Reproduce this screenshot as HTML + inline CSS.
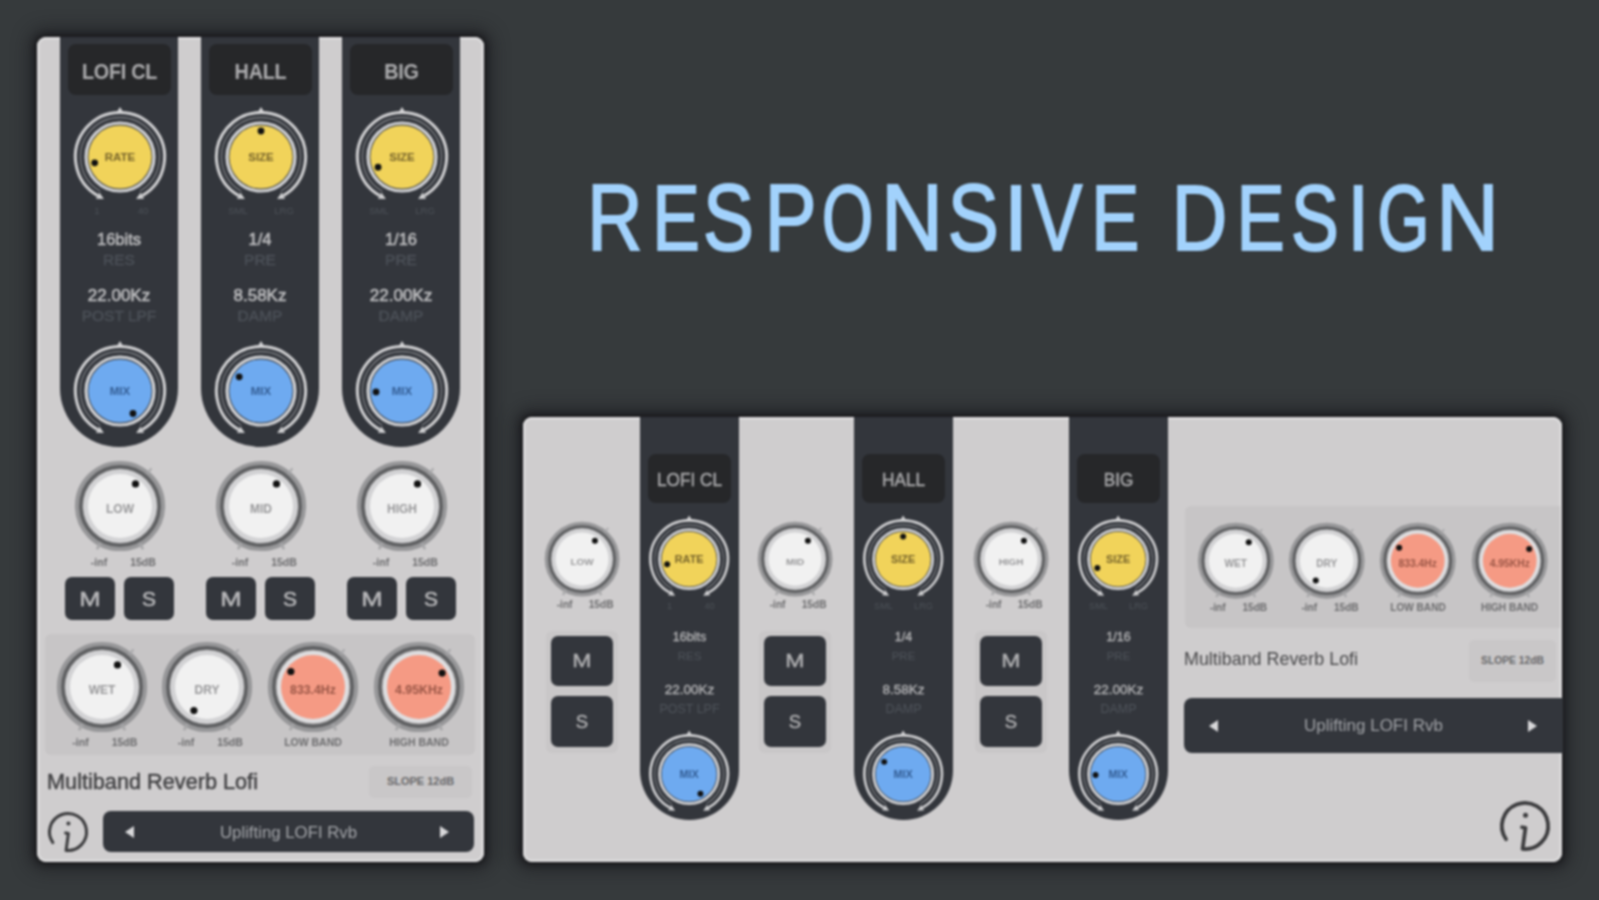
<!DOCTYPE html>
<html><head><meta charset="utf-8"><style>
html,body{margin:0;padding:0;}
body{width:1599px;height:900px;overflow:hidden;background:#363a3c;position:relative;font-family:"Liberation Sans", sans-serif;}
.t{position:absolute;white-space:nowrap;}
#w{position:absolute;left:0;top:0;width:1599px;height:900px;filter:blur(1.1px);}
</style></head><body><div id="w">
<div style="position:absolute;left:37px;top:37px;width:447px;height:825px;background:#cfcdce;border-radius:9px;box-shadow:0 0 5px 3px rgba(25,26,29,.9), 0 0 16px 9px rgba(25,26,29,.55), inset 0 0 0 2.5px #dcdbdc;"></div>
<div style="position:absolute;left:60px;top:37px;width:118px;height:410px;background:#33363c;border-radius:0 0 59px 59px;"></div>
<div style="position:absolute;left:68px;top:44px;width:103px;height:51px;background:#262729;border-radius:8px;"></div>
<div class="t" style="left:68px;top:57.5px;width:103px;text-align:center;font-size:22.5px;line-height:27.0px;color:#acacae;font-weight:bold;transform:scaleX(0.88);letter-spacing:-0.3px;">LOFI CL</div>
<svg style="position:absolute;left:60.0px;top:97.0px" width="120.0" height="120.0" viewBox="0 0 120.00 120.00"><path d="M37.70,98.62 A44.60,44.60 0 1 1 82.30,98.62" fill="none" stroke="#d0d0d2" stroke-width="3.00"/><path d="M40.25,94.21 A39.50,39.50 0 1 1 79.75,94.21" fill="none" stroke="#7a7c80" stroke-width="1.30"/><circle cx="60.0" cy="60.0" r="34.00" fill="none" stroke="#cfd0d3" stroke-width="3.20"/><circle cx="60.0" cy="60.0" r="31.60" fill="#f1d35a"/><path d="M56.00,16.20 L60.00,9.90 L64.00,16.20Z" fill="#d0d0d2"/><path d="M39.45,95.59 L35.95,101.66 L43.84,102.10Z" fill="#d0d0d2"/><path d="M80.55,95.59 L84.05,101.66 L76.16,102.10Z" fill="#d0d0d2"/><circle cx="34.67" cy="65.85" r="3.40" fill="#111"/><text x="60.0" y="64.00" text-anchor="middle" font-family='"Liberation Sans", sans-serif' font-weight="bold" font-size="11.50" fill="#76632a">RATE</text></svg>
<div class="t" style="left:67.0px;top:204.5px;width:60px;text-align:center;font-size:9.6px;color:#4d5258;line-height:12px">1</div>
<div class="t" style="left:113.0px;top:204.5px;width:60px;text-align:center;font-size:9.6px;color:#4d5258;line-height:12px">40</div>
<div class="t" style="left:60px;top:230.1px;width:118px;text-align:center;font-size:16.5px;line-height:19.8px;color:#bcbcbe;font-weight:normal;-webkit-text-stroke:0.55px #bcbcbe;">16bits</div>
<div class="t" style="left:60px;top:250.7px;width:118px;text-align:center;font-size:15.5px;line-height:18.599999999999998px;color:#4c5158;font-weight:normal;-webkit-text-stroke:0.4px #4c5158;">RES</div>
<div class="t" style="left:60px;top:285.8px;width:118px;text-align:center;font-size:17px;line-height:20.4px;color:#bcbcbe;font-weight:normal;-webkit-text-stroke:0.55px #bcbcbe;">22.00Kz</div>
<div class="t" style="left:60px;top:306.7px;width:118px;text-align:center;font-size:15.5px;line-height:18.599999999999998px;color:#4c5158;font-weight:normal;-webkit-text-stroke:0.4px #4c5158;">POST LPF</div>
<svg style="position:absolute;left:60.0px;top:331.0px" width="120.0" height="120.0" viewBox="0 0 120.00 120.00"><path d="M37.70,98.62 A44.60,44.60 0 1 1 82.30,98.62" fill="none" stroke="#d0d0d2" stroke-width="3.00"/><path d="M40.25,94.21 A39.50,39.50 0 1 1 79.75,94.21" fill="none" stroke="#7a7c80" stroke-width="1.30"/><circle cx="60.0" cy="60.0" r="34.00" fill="none" stroke="#cfd0d3" stroke-width="3.20"/><circle cx="60.0" cy="60.0" r="31.60" fill="#6eaaf0"/><path d="M56.00,16.20 L60.00,9.90 L64.00,16.20Z" fill="#d0d0d2"/><path d="M39.45,95.59 L35.95,101.66 L43.84,102.10Z" fill="#d0d0d2"/><path d="M80.55,95.59 L84.05,101.66 L76.16,102.10Z" fill="#d0d0d2"/><circle cx="73.00" cy="82.52" r="3.40" fill="#111"/><text x="60.0" y="64.00" text-anchor="middle" font-family='"Liberation Sans", sans-serif' font-weight="bold" font-size="11.50" fill="#335d94">MIX</text></svg>
<div class="t" style="left:67.0px;top:438.5px;width:60px;text-align:center;font-size:9.6px;color:#4d5258;line-height:12px"></div>
<div class="t" style="left:113.0px;top:438.5px;width:60px;text-align:center;font-size:9.6px;color:#4d5258;line-height:12px"></div>
<svg style="position:absolute;left:62.0px;top:448.0px" width="116.0" height="116.0" viewBox="0 0 116.00 116.00"><circle cx="58.0" cy="58.0" r="40.80" fill="none" stroke="#979799" stroke-width="8.60"/><circle cx="58.0" cy="58.0" r="39.20" fill="none" stroke="#5e5f61" stroke-width="3.40"/><path d="M38.28,95.08 L35.00,101.26" stroke="#a6a6a8" stroke-width="2.60"/><path d="M77.72,95.08 L81.00,101.26" stroke="#a6a6a8" stroke-width="2.60"/><path d="M85.64,25.06 L89.50,20.46" stroke="#a8a8aa" stroke-width="2.00"/><circle cx="58.0" cy="58.0" r="36.80" fill="#d2d2d4"/><circle cx="58.0" cy="58.0" r="32.00" fill="#f1f1f1"/><circle cx="73.49" cy="35.88" r="3.60" fill="#111"/><text x="58.0" y="65.00" text-anchor="middle" font-family='"Liberation Sans", sans-serif' font-weight="bold" font-size="12.00" fill="#98989a">LOW</text></svg>
<div class="t" style="left:69.0px;top:554.5px;width:60px;text-align:center;font-size:10.5px;color:#6c6c6e;font-weight:bold;line-height:14px">-inf</div>
<div class="t" style="left:113.0px;top:554.5px;width:60px;text-align:center;font-size:10.5px;color:#6c6c6e;font-weight:bold;line-height:14px">15dB</div>
<div style="position:absolute;left:65px;top:577px;width:50px;height:43px;background:#33363c;border-radius:7px;"></div>
<div style="position:absolute;left:124px;top:577px;width:50px;height:43px;background:#33363c;border-radius:7px;"></div>
<div class="t" style="left:65px;top:586.4px;width:50px;text-align:center;font-size:21px;line-height:25.2px;color:#b6b6b8;font-weight:normal;-webkit-text-stroke:0.6px #b6b6b8;transform:scaleX(1.22);">M</div>
<div class="t" style="left:124px;top:586.4px;width:50px;text-align:center;font-size:21px;line-height:25.2px;color:#b6b6b8;font-weight:normal;-webkit-text-stroke:0.6px #b6b6b8;">S</div>
<div style="position:absolute;left:201px;top:37px;width:118px;height:410px;background:#33363c;border-radius:0 0 59px 59px;"></div>
<div style="position:absolute;left:209px;top:44px;width:103px;height:51px;background:#262729;border-radius:8px;"></div>
<div class="t" style="left:209px;top:57.5px;width:103px;text-align:center;font-size:22.5px;line-height:27.0px;color:#acacae;font-weight:bold;transform:scaleX(0.88);letter-spacing:-0.3px;">HALL</div>
<svg style="position:absolute;left:201.0px;top:97.0px" width="120.0" height="120.0" viewBox="0 0 120.00 120.00"><path d="M37.70,98.62 A44.60,44.60 0 1 1 82.30,98.62" fill="none" stroke="#d0d0d2" stroke-width="3.00"/><path d="M40.25,94.21 A39.50,39.50 0 1 1 79.75,94.21" fill="none" stroke="#7a7c80" stroke-width="1.30"/><circle cx="60.0" cy="60.0" r="34.00" fill="none" stroke="#cfd0d3" stroke-width="3.20"/><circle cx="60.0" cy="60.0" r="31.60" fill="#f1d35a"/><path d="M56.00,16.20 L60.00,9.90 L64.00,16.20Z" fill="#d0d0d2"/><path d="M39.45,95.59 L35.95,101.66 L43.84,102.10Z" fill="#d0d0d2"/><path d="M80.55,95.59 L84.05,101.66 L76.16,102.10Z" fill="#d0d0d2"/><circle cx="60.00" cy="34.00" r="3.40" fill="#111"/><text x="60.0" y="64.00" text-anchor="middle" font-family='"Liberation Sans", sans-serif' font-weight="bold" font-size="11.50" fill="#76632a">SIZE</text></svg>
<div class="t" style="left:208.0px;top:204.5px;width:60px;text-align:center;font-size:9.6px;color:#4d5258;line-height:12px">SML</div>
<div class="t" style="left:254.0px;top:204.5px;width:60px;text-align:center;font-size:9.6px;color:#4d5258;line-height:12px">LRG</div>
<div class="t" style="left:201px;top:230.1px;width:118px;text-align:center;font-size:16.5px;line-height:19.8px;color:#bcbcbe;font-weight:normal;-webkit-text-stroke:0.55px #bcbcbe;">1/4</div>
<div class="t" style="left:201px;top:250.7px;width:118px;text-align:center;font-size:15.5px;line-height:18.599999999999998px;color:#4c5158;font-weight:normal;-webkit-text-stroke:0.4px #4c5158;">PRE</div>
<div class="t" style="left:201px;top:285.8px;width:118px;text-align:center;font-size:17px;line-height:20.4px;color:#bcbcbe;font-weight:normal;-webkit-text-stroke:0.55px #bcbcbe;">8.58Kz</div>
<div class="t" style="left:201px;top:306.7px;width:118px;text-align:center;font-size:15.5px;line-height:18.599999999999998px;color:#4c5158;font-weight:normal;-webkit-text-stroke:0.4px #4c5158;">DAMP</div>
<svg style="position:absolute;left:201.0px;top:331.0px" width="120.0" height="120.0" viewBox="0 0 120.00 120.00"><path d="M37.70,98.62 A44.60,44.60 0 1 1 82.30,98.62" fill="none" stroke="#d0d0d2" stroke-width="3.00"/><path d="M40.25,94.21 A39.50,39.50 0 1 1 79.75,94.21" fill="none" stroke="#7a7c80" stroke-width="1.30"/><circle cx="60.0" cy="60.0" r="34.00" fill="none" stroke="#cfd0d3" stroke-width="3.20"/><circle cx="60.0" cy="60.0" r="31.60" fill="#6eaaf0"/><path d="M56.00,16.20 L60.00,9.90 L64.00,16.20Z" fill="#d0d0d2"/><path d="M39.45,95.59 L35.95,101.66 L43.84,102.10Z" fill="#d0d0d2"/><path d="M80.55,95.59 L84.05,101.66 L76.16,102.10Z" fill="#d0d0d2"/><circle cx="38.19" cy="45.84" r="3.40" fill="#111"/><text x="60.0" y="64.00" text-anchor="middle" font-family='"Liberation Sans", sans-serif' font-weight="bold" font-size="11.50" fill="#335d94">MIX</text></svg>
<div class="t" style="left:208.0px;top:438.5px;width:60px;text-align:center;font-size:9.6px;color:#4d5258;line-height:12px"></div>
<div class="t" style="left:254.0px;top:438.5px;width:60px;text-align:center;font-size:9.6px;color:#4d5258;line-height:12px"></div>
<svg style="position:absolute;left:203.0px;top:448.0px" width="116.0" height="116.0" viewBox="0 0 116.00 116.00"><circle cx="58.0" cy="58.0" r="40.80" fill="none" stroke="#979799" stroke-width="8.60"/><circle cx="58.0" cy="58.0" r="39.20" fill="none" stroke="#5e5f61" stroke-width="3.40"/><path d="M38.28,95.08 L35.00,101.26" stroke="#a6a6a8" stroke-width="2.60"/><path d="M77.72,95.08 L81.00,101.26" stroke="#a6a6a8" stroke-width="2.60"/><path d="M85.64,25.06 L89.50,20.46" stroke="#a8a8aa" stroke-width="2.00"/><circle cx="58.0" cy="58.0" r="36.80" fill="#d2d2d4"/><circle cx="58.0" cy="58.0" r="32.00" fill="#f1f1f1"/><circle cx="73.49" cy="35.88" r="3.60" fill="#111"/><text x="58.0" y="65.00" text-anchor="middle" font-family='"Liberation Sans", sans-serif' font-weight="bold" font-size="12.00" fill="#98989a">MID</text></svg>
<div class="t" style="left:210.0px;top:554.5px;width:60px;text-align:center;font-size:10.5px;color:#6c6c6e;font-weight:bold;line-height:14px">-inf</div>
<div class="t" style="left:254.0px;top:554.5px;width:60px;text-align:center;font-size:10.5px;color:#6c6c6e;font-weight:bold;line-height:14px">15dB</div>
<div style="position:absolute;left:206px;top:577px;width:50px;height:43px;background:#33363c;border-radius:7px;"></div>
<div style="position:absolute;left:265px;top:577px;width:50px;height:43px;background:#33363c;border-radius:7px;"></div>
<div class="t" style="left:206px;top:586.4px;width:50px;text-align:center;font-size:21px;line-height:25.2px;color:#b6b6b8;font-weight:normal;-webkit-text-stroke:0.6px #b6b6b8;transform:scaleX(1.22);">M</div>
<div class="t" style="left:265px;top:586.4px;width:50px;text-align:center;font-size:21px;line-height:25.2px;color:#b6b6b8;font-weight:normal;-webkit-text-stroke:0.6px #b6b6b8;">S</div>
<div style="position:absolute;left:342px;top:37px;width:118px;height:410px;background:#33363c;border-radius:0 0 59px 59px;"></div>
<div style="position:absolute;left:350px;top:44px;width:103px;height:51px;background:#262729;border-radius:8px;"></div>
<div class="t" style="left:350px;top:57.5px;width:103px;text-align:center;font-size:22.5px;line-height:27.0px;color:#acacae;font-weight:bold;transform:scaleX(0.88);letter-spacing:-0.3px;">BIG</div>
<svg style="position:absolute;left:342.0px;top:97.0px" width="120.0" height="120.0" viewBox="0 0 120.00 120.00"><path d="M37.70,98.62 A44.60,44.60 0 1 1 82.30,98.62" fill="none" stroke="#d0d0d2" stroke-width="3.00"/><path d="M40.25,94.21 A39.50,39.50 0 1 1 79.75,94.21" fill="none" stroke="#7a7c80" stroke-width="1.30"/><circle cx="60.0" cy="60.0" r="34.00" fill="none" stroke="#cfd0d3" stroke-width="3.20"/><circle cx="60.0" cy="60.0" r="31.60" fill="#f1d35a"/><path d="M56.00,16.20 L60.00,9.90 L64.00,16.20Z" fill="#d0d0d2"/><path d="M39.45,95.59 L35.95,101.66 L43.84,102.10Z" fill="#d0d0d2"/><path d="M80.55,95.59 L84.05,101.66 L76.16,102.10Z" fill="#d0d0d2"/><circle cx="36.07" cy="70.16" r="3.40" fill="#111"/><text x="60.0" y="64.00" text-anchor="middle" font-family='"Liberation Sans", sans-serif' font-weight="bold" font-size="11.50" fill="#76632a">SIZE</text></svg>
<div class="t" style="left:349.0px;top:204.5px;width:60px;text-align:center;font-size:9.6px;color:#4d5258;line-height:12px">SML</div>
<div class="t" style="left:395.0px;top:204.5px;width:60px;text-align:center;font-size:9.6px;color:#4d5258;line-height:12px">LRG</div>
<div class="t" style="left:342px;top:230.1px;width:118px;text-align:center;font-size:16.5px;line-height:19.8px;color:#bcbcbe;font-weight:normal;-webkit-text-stroke:0.55px #bcbcbe;">1/16</div>
<div class="t" style="left:342px;top:250.7px;width:118px;text-align:center;font-size:15.5px;line-height:18.599999999999998px;color:#4c5158;font-weight:normal;-webkit-text-stroke:0.4px #4c5158;">PRE</div>
<div class="t" style="left:342px;top:285.8px;width:118px;text-align:center;font-size:17px;line-height:20.4px;color:#bcbcbe;font-weight:normal;-webkit-text-stroke:0.55px #bcbcbe;">22.00Kz</div>
<div class="t" style="left:342px;top:306.7px;width:118px;text-align:center;font-size:15.5px;line-height:18.599999999999998px;color:#4c5158;font-weight:normal;-webkit-text-stroke:0.4px #4c5158;">DAMP</div>
<svg style="position:absolute;left:342.0px;top:331.0px" width="120.0" height="120.0" viewBox="0 0 120.00 120.00"><path d="M37.70,98.62 A44.60,44.60 0 1 1 82.30,98.62" fill="none" stroke="#d0d0d2" stroke-width="3.00"/><path d="M40.25,94.21 A39.50,39.50 0 1 1 79.75,94.21" fill="none" stroke="#7a7c80" stroke-width="1.30"/><circle cx="60.0" cy="60.0" r="34.00" fill="none" stroke="#cfd0d3" stroke-width="3.20"/><circle cx="60.0" cy="60.0" r="31.60" fill="#6eaaf0"/><path d="M56.00,16.20 L60.00,9.90 L64.00,16.20Z" fill="#d0d0d2"/><path d="M39.45,95.59 L35.95,101.66 L43.84,102.10Z" fill="#d0d0d2"/><path d="M80.55,95.59 L84.05,101.66 L76.16,102.10Z" fill="#d0d0d2"/><circle cx="34.02" cy="60.91" r="3.40" fill="#111"/><text x="60.0" y="64.00" text-anchor="middle" font-family='"Liberation Sans", sans-serif' font-weight="bold" font-size="11.50" fill="#335d94">MIX</text></svg>
<div class="t" style="left:349.0px;top:438.5px;width:60px;text-align:center;font-size:9.6px;color:#4d5258;line-height:12px"></div>
<div class="t" style="left:395.0px;top:438.5px;width:60px;text-align:center;font-size:9.6px;color:#4d5258;line-height:12px"></div>
<svg style="position:absolute;left:344.0px;top:448.0px" width="116.0" height="116.0" viewBox="0 0 116.00 116.00"><circle cx="58.0" cy="58.0" r="40.80" fill="none" stroke="#979799" stroke-width="8.60"/><circle cx="58.0" cy="58.0" r="39.20" fill="none" stroke="#5e5f61" stroke-width="3.40"/><path d="M38.28,95.08 L35.00,101.26" stroke="#a6a6a8" stroke-width="2.60"/><path d="M77.72,95.08 L81.00,101.26" stroke="#a6a6a8" stroke-width="2.60"/><path d="M85.64,25.06 L89.50,20.46" stroke="#a8a8aa" stroke-width="2.00"/><circle cx="58.0" cy="58.0" r="36.80" fill="#d2d2d4"/><circle cx="58.0" cy="58.0" r="32.00" fill="#f1f1f1"/><circle cx="73.49" cy="35.88" r="3.60" fill="#111"/><text x="58.0" y="65.00" text-anchor="middle" font-family='"Liberation Sans", sans-serif' font-weight="bold" font-size="12.00" fill="#98989a">HIGH</text></svg>
<div class="t" style="left:351.0px;top:554.5px;width:60px;text-align:center;font-size:10.5px;color:#6c6c6e;font-weight:bold;line-height:14px">-inf</div>
<div class="t" style="left:395.0px;top:554.5px;width:60px;text-align:center;font-size:10.5px;color:#6c6c6e;font-weight:bold;line-height:14px">15dB</div>
<div style="position:absolute;left:347px;top:577px;width:50px;height:43px;background:#33363c;border-radius:7px;"></div>
<div style="position:absolute;left:406px;top:577px;width:50px;height:43px;background:#33363c;border-radius:7px;"></div>
<div class="t" style="left:347px;top:586.4px;width:50px;text-align:center;font-size:21px;line-height:25.2px;color:#b6b6b8;font-weight:normal;-webkit-text-stroke:0.6px #b6b6b8;transform:scaleX(1.22);">M</div>
<div class="t" style="left:406px;top:586.4px;width:50px;text-align:center;font-size:21px;line-height:25.2px;color:#b6b6b8;font-weight:normal;-webkit-text-stroke:0.6px #b6b6b8;">S</div>
<div style="position:absolute;left:45px;top:634px;width:430px;height:121px;background:#c7c5c6;border-radius:6px;"></div>
<svg style="position:absolute;left:43.5px;top:628.5px" width="116.0" height="116.0" viewBox="0 0 116.00 116.00"><circle cx="58.0" cy="58.0" r="40.80" fill="none" stroke="#979799" stroke-width="8.60"/><circle cx="58.0" cy="58.0" r="39.20" fill="none" stroke="#5e5f61" stroke-width="3.40"/><path d="M38.28,95.08 L35.00,101.26" stroke="#a6a6a8" stroke-width="2.60"/><path d="M77.72,95.08 L81.00,101.26" stroke="#a6a6a8" stroke-width="2.60"/><path d="M85.64,25.06 L89.50,20.46" stroke="#a8a8aa" stroke-width="2.00"/><circle cx="58.0" cy="58.0" r="36.80" fill="#d2d2d4"/><circle cx="58.0" cy="58.0" r="32.00" fill="#f1f1f1"/><circle cx="73.49" cy="35.88" r="3.60" fill="#111"/><text x="58.0" y="65.00" text-anchor="middle" font-family='"Liberation Sans", sans-serif' font-weight="bold" font-size="12.00" fill="#98989a">WET</text></svg>
<div class="t" style="left:50.5px;top:735.0px;width:60px;text-align:center;font-size:10.5px;color:#6c6c6e;font-weight:bold;line-height:14px">-inf</div>
<div class="t" style="left:94.5px;top:735.0px;width:60px;text-align:center;font-size:10.5px;color:#6c6c6e;font-weight:bold;line-height:14px">15dB</div>
<svg style="position:absolute;left:149.0px;top:628.5px" width="116.0" height="116.0" viewBox="0 0 116.00 116.00"><circle cx="58.0" cy="58.0" r="40.80" fill="none" stroke="#979799" stroke-width="8.60"/><circle cx="58.0" cy="58.0" r="39.20" fill="none" stroke="#5e5f61" stroke-width="3.40"/><path d="M38.28,95.08 L35.00,101.26" stroke="#a6a6a8" stroke-width="2.60"/><path d="M77.72,95.08 L81.00,101.26" stroke="#a6a6a8" stroke-width="2.60"/><path d="M85.64,25.06 L89.50,20.46" stroke="#a8a8aa" stroke-width="2.00"/><circle cx="58.0" cy="58.0" r="36.80" fill="#d2d2d4"/><circle cx="58.0" cy="58.0" r="32.00" fill="#f1f1f1"/><circle cx="44.91" cy="81.61" r="3.60" fill="#111"/><text x="58.0" y="65.00" text-anchor="middle" font-family='"Liberation Sans", sans-serif' font-weight="bold" font-size="12.00" fill="#98989a">DRY</text></svg>
<div class="t" style="left:156.0px;top:735.0px;width:60px;text-align:center;font-size:10.5px;color:#6c6c6e;font-weight:bold;line-height:14px">-inf</div>
<div class="t" style="left:200.0px;top:735.0px;width:60px;text-align:center;font-size:10.5px;color:#6c6c6e;font-weight:bold;line-height:14px">15dB</div>
<svg style="position:absolute;left:255.0px;top:628.5px" width="116.0" height="116.0" viewBox="0 0 116.00 116.00"><circle cx="58.0" cy="58.0" r="40.80" fill="none" stroke="#979799" stroke-width="8.60"/><circle cx="58.0" cy="58.0" r="39.20" fill="none" stroke="#5e5f61" stroke-width="3.40"/><path d="M38.28,95.08 L35.00,101.26" stroke="#a6a6a8" stroke-width="2.60"/><path d="M77.72,95.08 L81.00,101.26" stroke="#a6a6a8" stroke-width="2.60"/><path d="M85.64,25.06 L89.50,20.46" stroke="#a8a8aa" stroke-width="2.00"/><circle cx="58.0" cy="58.0" r="36.00" fill="#dedee0"/><circle cx="58.0" cy="58.0" r="32.00" fill="#f59a84"/><circle cx="35.88" cy="42.51" r="3.60" fill="#111"/><text x="58.0" y="65.00" text-anchor="middle" font-family='"Liberation Sans", sans-serif' font-weight="bold" font-size="12.30" fill="#9a5646">833.4Hz</text></svg>
<div class="t" style="left:263.0px;top:735.0px;width:100px;text-align:center;font-size:10.5px;color:#6c6c6e;font-weight:bold;line-height:14px">LOW BAND</div>
<svg style="position:absolute;left:361.0px;top:628.5px" width="116.0" height="116.0" viewBox="0 0 116.00 116.00"><circle cx="58.0" cy="58.0" r="40.80" fill="none" stroke="#979799" stroke-width="8.60"/><circle cx="58.0" cy="58.0" r="39.20" fill="none" stroke="#5e5f61" stroke-width="3.40"/><path d="M38.28,95.08 L35.00,101.26" stroke="#a6a6a8" stroke-width="2.60"/><path d="M77.72,95.08 L81.00,101.26" stroke="#a6a6a8" stroke-width="2.60"/><path d="M85.64,25.06 L89.50,20.46" stroke="#a8a8aa" stroke-width="2.00"/><circle cx="58.0" cy="58.0" r="36.00" fill="#dedee0"/><circle cx="58.0" cy="58.0" r="32.00" fill="#f59a84"/><circle cx="81.14" cy="44.09" r="3.60" fill="#111"/><text x="58.0" y="65.00" text-anchor="middle" font-family='"Liberation Sans", sans-serif' font-weight="bold" font-size="12.30" fill="#9a5646">4.95KHz</text></svg>
<div class="t" style="left:369.0px;top:735.0px;width:100px;text-align:center;font-size:10.5px;color:#6c6c6e;font-weight:bold;line-height:14px">HIGH BAND</div>
<div class="t" style="left:47px;top:769.0px;width:300px;text-align:left;font-size:21.7px;line-height:26.04px;color:#424244;font-weight:normal;-webkit-text-stroke:0.45px #424244;">Multiband Reverb Lofi</div>
<div style="position:absolute;left:369px;top:766px;width:103px;height:32px;background:#c9c7c8;border-radius:5px;"></div>
<div class="t" style="left:369px;top:775.4px;width:103px;text-align:center;font-size:11px;line-height:13.2px;color:#68686a;font-weight:bold;">SLOPE 12dB</div>
<div style="position:absolute;left:103px;top:811px;width:371px;height:41px;background:#33363c;border-radius:8px;"></div>
<div class="t" style="left:103px;top:822.9px;width:371px;text-align:center;font-size:16.8px;line-height:20.16px;color:#a4a6aa;font-weight:normal;">Uplifting LOFI Rvb</div>
<svg style="position:absolute;left:122px;top:824px" width="14" height="16"><path d="M12,2 L3,8 L12,14Z" fill="#d8d8da"/></svg>
<svg style="position:absolute;left:438px;top:824px" width="14" height="16"><path d="M2,2 L11,8 L2,14Z" fill="#d8d8da"/></svg>
<svg style="position:absolute;left:42.2px;top:806.4px" width="52.0" height="52.0" viewBox="-26.00 -26.00 52.00 52.00"><path d="M-15.15,10.61 A18.50,18.50 0 1 1 -1.93,18.40 L0.40,1.40 L-2.40,1.00" fill="none" stroke="#3b3b3d" stroke-width="3.00" stroke-linecap="round" stroke-linejoin="round"/><circle cx="0.40" cy="-8.60" r="2.00" fill="#3b3b3d"/></svg>
<div style="position:absolute;left:523px;top:417px;width:1039px;height:445px;background:#cfcdce;border-radius:9px;box-shadow:0 0 5px 3px rgba(25,26,29,.9), 0 0 16px 9px rgba(25,26,29,.55), inset 0 0 0 2.5px #dcdbdc;"></div>
<div style="position:absolute;left:640px;top:417px;width:99px;height:403px;background:#33363c;border-radius:0 0 50px 50px;"></div>
<div style="position:absolute;left:648px;top:454px;width:83px;height:49px;background:#262729;border-radius:8px;"></div>
<div class="t" style="left:648px;top:469.4px;width:83px;text-align:center;font-size:18.5px;line-height:22.2px;color:#a8a8aa;font-weight:normal;transform:scaleX(0.93);-webkit-text-stroke:0.5px #a8a8aa;">LOFI CL</div>
<svg style="position:absolute;left:637.3px;top:506.8px" width="104.3" height="104.3" viewBox="0 0 104.35 104.35"><path d="M32.78,85.76 A38.78,38.78 0 1 1 71.57,85.76" fill="none" stroke="#d0d0d2" stroke-width="2.61"/><path d="M35.00,81.92 A34.35,34.35 0 1 1 69.35,81.92" fill="none" stroke="#7a7c80" stroke-width="1.13"/><circle cx="52.17391304347826" cy="52.17391304347826" r="29.57" fill="none" stroke="#cfd0d3" stroke-width="2.78"/><circle cx="52.17391304347826" cy="52.17391304347826" r="27.48" fill="#f1d35a"/><path d="M48.70,14.09 L52.17,8.61 L55.65,14.09Z" fill="#d0d0d2"/><path d="M34.30,83.12 L31.26,88.40 L38.12,88.79Z" fill="#d0d0d2"/><path d="M70.04,83.12 L73.09,88.40 L66.23,88.79Z" fill="#d0d0d2"/><circle cx="30.14" cy="57.26" r="2.96" fill="#111"/><text x="52.17391304347826" y="55.65" text-anchor="middle" font-family='"Liberation Sans", sans-serif' font-weight="bold" font-size="10.87" fill="#76632a">RATE</text></svg>
<div class="t" style="left:639.5px;top:599.5px;width:60px;text-align:center;font-size:9.2px;color:#4d5258;line-height:12px">1</div>
<div class="t" style="left:679.5px;top:599.5px;width:60px;text-align:center;font-size:9.2px;color:#4d5258;line-height:12px">40</div>
<div class="t" style="left:640px;top:629.5px;width:99px;text-align:center;font-size:12.5px;line-height:15.0px;color:#b4b4b6;font-weight:normal;-webkit-text-stroke:0.35px #b4b4b6;">16bits</div>
<div class="t" style="left:640px;top:650.1px;width:99px;text-align:center;font-size:11.5px;line-height:13.799999999999999px;color:#4f545b;font-weight:normal;">RES</div>
<div class="t" style="left:640px;top:681.9px;width:99px;text-align:center;font-size:13.5px;line-height:16.2px;color:#b4b4b6;font-weight:normal;-webkit-text-stroke:0.35px #b4b4b6;">22.00Kz</div>
<div class="t" style="left:640px;top:701.5px;width:99px;text-align:center;font-size:12.5px;line-height:15.0px;color:#4f545b;font-weight:normal;">POST LPF</div>
<svg style="position:absolute;left:637.3px;top:721.8px" width="104.3" height="104.3" viewBox="0 0 104.35 104.35"><path d="M32.78,85.76 A38.78,38.78 0 1 1 71.57,85.76" fill="none" stroke="#d0d0d2" stroke-width="2.61"/><path d="M35.00,81.92 A34.35,34.35 0 1 1 69.35,81.92" fill="none" stroke="#7a7c80" stroke-width="1.13"/><circle cx="52.17391304347826" cy="52.17391304347826" r="29.57" fill="none" stroke="#cfd0d3" stroke-width="2.78"/><circle cx="52.17391304347826" cy="52.17391304347826" r="27.48" fill="#6eaaf0"/><path d="M48.70,14.09 L52.17,8.61 L55.65,14.09Z" fill="#d0d0d2"/><path d="M34.30,83.12 L31.26,88.40 L38.12,88.79Z" fill="#d0d0d2"/><path d="M70.04,83.12 L73.09,88.40 L66.23,88.79Z" fill="#d0d0d2"/><circle cx="63.48" cy="71.75" r="2.96" fill="#111"/><text x="52.17391304347826" y="55.65" text-anchor="middle" font-family='"Liberation Sans", sans-serif' font-weight="bold" font-size="10.87" fill="#335d94">MIX</text></svg>
<div class="t" style="left:639.5px;top:814.5px;width:60px;text-align:center;font-size:9.2px;color:#4d5258;line-height:12px"></div>
<div class="t" style="left:679.5px;top:814.5px;width:60px;text-align:center;font-size:9.2px;color:#4d5258;line-height:12px"></div>
<svg style="position:absolute;left:533.9px;top:510.9px" width="96.2" height="96.2" viewBox="0 0 96.23 96.23"><circle cx="48.11363636363637" cy="48.11363636363637" r="33.85" fill="none" stroke="#979799" stroke-width="7.13"/><circle cx="48.11363636363637" cy="48.11363636363637" r="32.52" fill="none" stroke="#5e5f61" stroke-width="2.82"/><path d="M31.76,78.88 L29.03,84.00" stroke="#a6a6a8" stroke-width="2.16"/><path d="M64.47,78.88 L67.20,84.00" stroke="#a6a6a8" stroke-width="2.16"/><path d="M71.04,20.79 L74.24,16.98" stroke="#a8a8aa" stroke-width="1.66"/><circle cx="48.11363636363637" cy="48.11363636363637" r="30.53" fill="#d2d2d4"/><circle cx="48.11363636363637" cy="48.11363636363637" r="26.55" fill="#f1f1f1"/><circle cx="60.96" cy="29.77" r="2.99" fill="#111"/><text x="48.11363636363637" y="53.92" text-anchor="middle" font-family='"Liberation Sans", sans-serif' font-weight="bold" font-size="9.95" fill="#98989a">LOW</text></svg>
<div class="t" style="left:534.6px;top:598.0px;width:60px;text-align:center;font-size:10.1px;color:#6c6c6e;font-weight:bold;line-height:14px">-inf</div>
<div class="t" style="left:571.1px;top:598.0px;width:60px;text-align:center;font-size:10.1px;color:#6c6c6e;font-weight:bold;line-height:14px">15dB</div>
<div style="position:absolute;left:546px;top:631px;width:72px;height:122px;background:#c9c7c8;border-radius:6px;"></div>
<div style="position:absolute;left:551px;top:636px;width:62px;height:50px;background:#33363c;border-radius:7px;"></div>
<div style="position:absolute;left:551px;top:696px;width:62px;height:51px;background:#33363c;border-radius:7px;"></div>
<div class="t" style="left:551px;top:649.9px;width:62px;text-align:center;font-size:18.5px;line-height:22.2px;color:#b0b0b2;font-weight:normal;-webkit-text-stroke:0.4px #b0b0b2;transform:scaleX(1.25);">M</div>
<div class="t" style="left:551px;top:710.9px;width:62px;text-align:center;font-size:18.5px;line-height:22.2px;color:#b0b0b2;font-weight:normal;-webkit-text-stroke:0.4px #b0b0b2;">S</div>
<div style="position:absolute;left:854px;top:417px;width:99px;height:403px;background:#33363c;border-radius:0 0 50px 50px;"></div>
<div style="position:absolute;left:862px;top:454px;width:83px;height:49px;background:#262729;border-radius:8px;"></div>
<div class="t" style="left:862px;top:469.4px;width:83px;text-align:center;font-size:18.5px;line-height:22.2px;color:#a8a8aa;font-weight:normal;transform:scaleX(0.93);-webkit-text-stroke:0.5px #a8a8aa;">HALL</div>
<svg style="position:absolute;left:851.3px;top:506.8px" width="104.3" height="104.3" viewBox="0 0 104.35 104.35"><path d="M32.78,85.76 A38.78,38.78 0 1 1 71.57,85.76" fill="none" stroke="#d0d0d2" stroke-width="2.61"/><path d="M35.00,81.92 A34.35,34.35 0 1 1 69.35,81.92" fill="none" stroke="#7a7c80" stroke-width="1.13"/><circle cx="52.17391304347826" cy="52.17391304347826" r="29.57" fill="none" stroke="#cfd0d3" stroke-width="2.78"/><circle cx="52.17391304347826" cy="52.17391304347826" r="27.48" fill="#f1d35a"/><path d="M48.70,14.09 L52.17,8.61 L55.65,14.09Z" fill="#d0d0d2"/><path d="M34.30,83.12 L31.26,88.40 L38.12,88.79Z" fill="#d0d0d2"/><path d="M70.04,83.12 L73.09,88.40 L66.23,88.79Z" fill="#d0d0d2"/><circle cx="52.17" cy="29.57" r="2.96" fill="#111"/><text x="52.17391304347826" y="55.65" text-anchor="middle" font-family='"Liberation Sans", sans-serif' font-weight="bold" font-size="10.87" fill="#76632a">SIZE</text></svg>
<div class="t" style="left:853.5px;top:599.5px;width:60px;text-align:center;font-size:9.2px;color:#4d5258;line-height:12px">SML</div>
<div class="t" style="left:893.5px;top:599.5px;width:60px;text-align:center;font-size:9.2px;color:#4d5258;line-height:12px">LRG</div>
<div class="t" style="left:854px;top:629.5px;width:99px;text-align:center;font-size:12.5px;line-height:15.0px;color:#b4b4b6;font-weight:normal;-webkit-text-stroke:0.35px #b4b4b6;">1/4</div>
<div class="t" style="left:854px;top:650.1px;width:99px;text-align:center;font-size:11.5px;line-height:13.799999999999999px;color:#4f545b;font-weight:normal;">PRE</div>
<div class="t" style="left:854px;top:681.9px;width:99px;text-align:center;font-size:13.5px;line-height:16.2px;color:#b4b4b6;font-weight:normal;-webkit-text-stroke:0.35px #b4b4b6;">8.58Kz</div>
<div class="t" style="left:854px;top:701.5px;width:99px;text-align:center;font-size:12.5px;line-height:15.0px;color:#4f545b;font-weight:normal;">DAMP</div>
<svg style="position:absolute;left:851.3px;top:721.8px" width="104.3" height="104.3" viewBox="0 0 104.35 104.35"><path d="M32.78,85.76 A38.78,38.78 0 1 1 71.57,85.76" fill="none" stroke="#d0d0d2" stroke-width="2.61"/><path d="M35.00,81.92 A34.35,34.35 0 1 1 69.35,81.92" fill="none" stroke="#7a7c80" stroke-width="1.13"/><circle cx="52.17391304347826" cy="52.17391304347826" r="29.57" fill="none" stroke="#cfd0d3" stroke-width="2.78"/><circle cx="52.17391304347826" cy="52.17391304347826" r="27.48" fill="#6eaaf0"/><path d="M48.70,14.09 L52.17,8.61 L55.65,14.09Z" fill="#d0d0d2"/><path d="M34.30,83.12 L31.26,88.40 L38.12,88.79Z" fill="#d0d0d2"/><path d="M70.04,83.12 L73.09,88.40 L66.23,88.79Z" fill="#d0d0d2"/><circle cx="33.21" cy="39.86" r="2.96" fill="#111"/><text x="52.17391304347826" y="55.65" text-anchor="middle" font-family='"Liberation Sans", sans-serif' font-weight="bold" font-size="10.87" fill="#335d94">MIX</text></svg>
<div class="t" style="left:853.5px;top:814.5px;width:60px;text-align:center;font-size:9.2px;color:#4d5258;line-height:12px"></div>
<div class="t" style="left:893.5px;top:814.5px;width:60px;text-align:center;font-size:9.2px;color:#4d5258;line-height:12px"></div>
<svg style="position:absolute;left:746.9px;top:510.9px" width="96.2" height="96.2" viewBox="0 0 96.23 96.23"><circle cx="48.11363636363637" cy="48.11363636363637" r="33.85" fill="none" stroke="#979799" stroke-width="7.13"/><circle cx="48.11363636363637" cy="48.11363636363637" r="32.52" fill="none" stroke="#5e5f61" stroke-width="2.82"/><path d="M31.76,78.88 L29.03,84.00" stroke="#a6a6a8" stroke-width="2.16"/><path d="M64.47,78.88 L67.20,84.00" stroke="#a6a6a8" stroke-width="2.16"/><path d="M71.04,20.79 L74.24,16.98" stroke="#a8a8aa" stroke-width="1.66"/><circle cx="48.11363636363637" cy="48.11363636363637" r="30.53" fill="#d2d2d4"/><circle cx="48.11363636363637" cy="48.11363636363637" r="26.55" fill="#f1f1f1"/><circle cx="60.96" cy="29.77" r="2.99" fill="#111"/><text x="48.11363636363637" y="53.92" text-anchor="middle" font-family='"Liberation Sans", sans-serif' font-weight="bold" font-size="9.95" fill="#98989a">MID</text></svg>
<div class="t" style="left:747.6px;top:598.0px;width:60px;text-align:center;font-size:10.1px;color:#6c6c6e;font-weight:bold;line-height:14px">-inf</div>
<div class="t" style="left:784.1px;top:598.0px;width:60px;text-align:center;font-size:10.1px;color:#6c6c6e;font-weight:bold;line-height:14px">15dB</div>
<div style="position:absolute;left:759px;top:631px;width:72px;height:122px;background:#c9c7c8;border-radius:6px;"></div>
<div style="position:absolute;left:764px;top:636px;width:62px;height:50px;background:#33363c;border-radius:7px;"></div>
<div style="position:absolute;left:764px;top:696px;width:62px;height:51px;background:#33363c;border-radius:7px;"></div>
<div class="t" style="left:764px;top:649.9px;width:62px;text-align:center;font-size:18.5px;line-height:22.2px;color:#b0b0b2;font-weight:normal;-webkit-text-stroke:0.4px #b0b0b2;transform:scaleX(1.25);">M</div>
<div class="t" style="left:764px;top:710.9px;width:62px;text-align:center;font-size:18.5px;line-height:22.2px;color:#b0b0b2;font-weight:normal;-webkit-text-stroke:0.4px #b0b0b2;">S</div>
<div style="position:absolute;left:1069px;top:417px;width:99px;height:403px;background:#33363c;border-radius:0 0 50px 50px;"></div>
<div style="position:absolute;left:1077px;top:454px;width:83px;height:49px;background:#262729;border-radius:8px;"></div>
<div class="t" style="left:1077px;top:469.4px;width:83px;text-align:center;font-size:18.5px;line-height:22.2px;color:#a8a8aa;font-weight:normal;transform:scaleX(0.93);-webkit-text-stroke:0.5px #a8a8aa;">BIG</div>
<svg style="position:absolute;left:1066.3px;top:506.8px" width="104.3" height="104.3" viewBox="0 0 104.35 104.35"><path d="M32.78,85.76 A38.78,38.78 0 1 1 71.57,85.76" fill="none" stroke="#d0d0d2" stroke-width="2.61"/><path d="M35.00,81.92 A34.35,34.35 0 1 1 69.35,81.92" fill="none" stroke="#7a7c80" stroke-width="1.13"/><circle cx="52.17391304347826" cy="52.17391304347826" r="29.57" fill="none" stroke="#cfd0d3" stroke-width="2.78"/><circle cx="52.17391304347826" cy="52.17391304347826" r="27.48" fill="#f1d35a"/><path d="M48.70,14.09 L52.17,8.61 L55.65,14.09Z" fill="#d0d0d2"/><path d="M34.30,83.12 L31.26,88.40 L38.12,88.79Z" fill="#d0d0d2"/><path d="M70.04,83.12 L73.09,88.40 L66.23,88.79Z" fill="#d0d0d2"/><circle cx="31.36" cy="61.01" r="2.96" fill="#111"/><text x="52.17391304347826" y="55.65" text-anchor="middle" font-family='"Liberation Sans", sans-serif' font-weight="bold" font-size="10.87" fill="#76632a">SIZE</text></svg>
<div class="t" style="left:1068.5px;top:599.5px;width:60px;text-align:center;font-size:9.2px;color:#4d5258;line-height:12px">SML</div>
<div class="t" style="left:1108.5px;top:599.5px;width:60px;text-align:center;font-size:9.2px;color:#4d5258;line-height:12px">LRG</div>
<div class="t" style="left:1069px;top:629.5px;width:99px;text-align:center;font-size:12.5px;line-height:15.0px;color:#b4b4b6;font-weight:normal;-webkit-text-stroke:0.35px #b4b4b6;">1/16</div>
<div class="t" style="left:1069px;top:650.1px;width:99px;text-align:center;font-size:11.5px;line-height:13.799999999999999px;color:#4f545b;font-weight:normal;">PRE</div>
<div class="t" style="left:1069px;top:681.9px;width:99px;text-align:center;font-size:13.5px;line-height:16.2px;color:#b4b4b6;font-weight:normal;-webkit-text-stroke:0.35px #b4b4b6;">22.00Kz</div>
<div class="t" style="left:1069px;top:701.5px;width:99px;text-align:center;font-size:12.5px;line-height:15.0px;color:#4f545b;font-weight:normal;">DAMP</div>
<svg style="position:absolute;left:1066.3px;top:721.8px" width="104.3" height="104.3" viewBox="0 0 104.35 104.35"><path d="M32.78,85.76 A38.78,38.78 0 1 1 71.57,85.76" fill="none" stroke="#d0d0d2" stroke-width="2.61"/><path d="M35.00,81.92 A34.35,34.35 0 1 1 69.35,81.92" fill="none" stroke="#7a7c80" stroke-width="1.13"/><circle cx="52.17391304347826" cy="52.17391304347826" r="29.57" fill="none" stroke="#cfd0d3" stroke-width="2.78"/><circle cx="52.17391304347826" cy="52.17391304347826" r="27.48" fill="#6eaaf0"/><path d="M48.70,14.09 L52.17,8.61 L55.65,14.09Z" fill="#d0d0d2"/><path d="M34.30,83.12 L31.26,88.40 L38.12,88.79Z" fill="#d0d0d2"/><path d="M70.04,83.12 L73.09,88.40 L66.23,88.79Z" fill="#d0d0d2"/><circle cx="29.58" cy="52.96" r="2.96" fill="#111"/><text x="52.17391304347826" y="55.65" text-anchor="middle" font-family='"Liberation Sans", sans-serif' font-weight="bold" font-size="10.87" fill="#335d94">MIX</text></svg>
<div class="t" style="left:1068.5px;top:814.5px;width:60px;text-align:center;font-size:9.2px;color:#4d5258;line-height:12px"></div>
<div class="t" style="left:1108.5px;top:814.5px;width:60px;text-align:center;font-size:9.2px;color:#4d5258;line-height:12px"></div>
<svg style="position:absolute;left:962.9px;top:510.9px" width="96.2" height="96.2" viewBox="0 0 96.23 96.23"><circle cx="48.11363636363637" cy="48.11363636363637" r="33.85" fill="none" stroke="#979799" stroke-width="7.13"/><circle cx="48.11363636363637" cy="48.11363636363637" r="32.52" fill="none" stroke="#5e5f61" stroke-width="2.82"/><path d="M31.76,78.88 L29.03,84.00" stroke="#a6a6a8" stroke-width="2.16"/><path d="M64.47,78.88 L67.20,84.00" stroke="#a6a6a8" stroke-width="2.16"/><path d="M71.04,20.79 L74.24,16.98" stroke="#a8a8aa" stroke-width="1.66"/><circle cx="48.11363636363637" cy="48.11363636363637" r="30.53" fill="#d2d2d4"/><circle cx="48.11363636363637" cy="48.11363636363637" r="26.55" fill="#f1f1f1"/><circle cx="60.96" cy="29.77" r="2.99" fill="#111"/><text x="48.11363636363637" y="53.92" text-anchor="middle" font-family='"Liberation Sans", sans-serif' font-weight="bold" font-size="9.95" fill="#98989a">HIGH</text></svg>
<div class="t" style="left:963.6px;top:598.0px;width:60px;text-align:center;font-size:10.1px;color:#6c6c6e;font-weight:bold;line-height:14px">-inf</div>
<div class="t" style="left:1000.1px;top:598.0px;width:60px;text-align:center;font-size:10.1px;color:#6c6c6e;font-weight:bold;line-height:14px">15dB</div>
<div style="position:absolute;left:975px;top:631px;width:72px;height:122px;background:#c9c7c8;border-radius:6px;"></div>
<div style="position:absolute;left:980px;top:636px;width:62px;height:50px;background:#33363c;border-radius:7px;"></div>
<div style="position:absolute;left:980px;top:696px;width:62px;height:51px;background:#33363c;border-radius:7px;"></div>
<div class="t" style="left:980px;top:649.9px;width:62px;text-align:center;font-size:18.5px;line-height:22.2px;color:#b0b0b2;font-weight:normal;-webkit-text-stroke:0.4px #b0b0b2;transform:scaleX(1.25);">M</div>
<div class="t" style="left:980px;top:710.9px;width:62px;text-align:center;font-size:18.5px;line-height:22.2px;color:#b0b0b2;font-weight:normal;-webkit-text-stroke:0.4px #b0b0b2;">S</div>
<div style="position:absolute;left:1185px;top:506px;width:375px;height:122px;background:#c7c5c6;border-radius:6px 0 0 6px;"></div>
<svg style="position:absolute;left:1186.7px;top:512.2px" width="97.5" height="97.5" viewBox="0 0 97.55 97.55"><circle cx="48.77272727272727" cy="48.77272727272727" r="34.31" fill="none" stroke="#979799" stroke-width="7.23"/><circle cx="48.77272727272727" cy="48.77272727272727" r="32.96" fill="none" stroke="#5e5f61" stroke-width="2.86"/><path d="M32.19,79.96 L29.43,85.15" stroke="#a6a6a8" stroke-width="2.19"/><path d="M65.35,79.96 L68.12,85.15" stroke="#a6a6a8" stroke-width="2.19"/><path d="M72.02,21.07 L75.26,17.21" stroke="#a8a8aa" stroke-width="1.68"/><circle cx="48.77272727272727" cy="48.77272727272727" r="30.95" fill="#d2d2d4"/><circle cx="48.77272727272727" cy="48.77272727272727" r="26.91" fill="#f1f1f1"/><circle cx="61.80" cy="30.17" r="3.03" fill="#111"/><text x="48.77272727272727" y="54.66" text-anchor="middle" font-family='"Liberation Sans", sans-serif' font-weight="bold" font-size="10.09" fill="#98989a">WET</text></svg>
<div class="t" style="left:1187.8px;top:600.7px;width:60px;text-align:center;font-size:10.1px;color:#6c6c6e;font-weight:bold;line-height:14px">-inf</div>
<div class="t" style="left:1224.8px;top:600.7px;width:60px;text-align:center;font-size:10.1px;color:#6c6c6e;font-weight:bold;line-height:14px">15dB</div>
<svg style="position:absolute;left:1278.2px;top:512.2px" width="97.5" height="97.5" viewBox="0 0 97.55 97.55"><circle cx="48.77272727272727" cy="48.77272727272727" r="34.31" fill="none" stroke="#979799" stroke-width="7.23"/><circle cx="48.77272727272727" cy="48.77272727272727" r="32.96" fill="none" stroke="#5e5f61" stroke-width="2.86"/><path d="M32.19,79.96 L29.43,85.15" stroke="#a6a6a8" stroke-width="2.19"/><path d="M65.35,79.96 L68.12,85.15" stroke="#a6a6a8" stroke-width="2.19"/><path d="M72.02,21.07 L75.26,17.21" stroke="#a8a8aa" stroke-width="1.68"/><circle cx="48.77272727272727" cy="48.77272727272727" r="30.95" fill="#d2d2d4"/><circle cx="48.77272727272727" cy="48.77272727272727" r="26.91" fill="#f1f1f1"/><circle cx="37.77" cy="68.63" r="3.03" fill="#111"/><text x="48.77272727272727" y="54.66" text-anchor="middle" font-family='"Liberation Sans", sans-serif' font-weight="bold" font-size="10.09" fill="#98989a">DRY</text></svg>
<div class="t" style="left:1279.3px;top:600.7px;width:60px;text-align:center;font-size:10.1px;color:#6c6c6e;font-weight:bold;line-height:14px">-inf</div>
<div class="t" style="left:1316.3px;top:600.7px;width:60px;text-align:center;font-size:10.1px;color:#6c6c6e;font-weight:bold;line-height:14px">15dB</div>
<svg style="position:absolute;left:1369.2px;top:512.2px" width="97.5" height="97.5" viewBox="0 0 97.55 97.55"><circle cx="48.77272727272727" cy="48.77272727272727" r="34.31" fill="none" stroke="#979799" stroke-width="7.23"/><circle cx="48.77272727272727" cy="48.77272727272727" r="32.96" fill="none" stroke="#5e5f61" stroke-width="2.86"/><path d="M32.19,79.96 L29.43,85.15" stroke="#a6a6a8" stroke-width="2.19"/><path d="M65.35,79.96 L68.12,85.15" stroke="#a6a6a8" stroke-width="2.19"/><path d="M72.02,21.07 L75.26,17.21" stroke="#a8a8aa" stroke-width="1.68"/><circle cx="48.77272727272727" cy="48.77272727272727" r="30.27" fill="#dedee0"/><circle cx="48.77272727272727" cy="48.77272727272727" r="26.91" fill="#f59a84"/><circle cx="30.17" cy="35.75" r="3.03" fill="#111"/><text x="48.77272727272727" y="54.66" text-anchor="middle" font-family='"Liberation Sans", sans-serif' font-weight="bold" font-size="10.34" fill="#9a5646">833.4Hz</text></svg>
<div class="t" style="left:1368.0px;top:600.7px;width:100px;text-align:center;font-size:10.1px;color:#6c6c6e;font-weight:bold;line-height:14px">LOW BAND</div>
<svg style="position:absolute;left:1460.7px;top:512.2px" width="97.5" height="97.5" viewBox="0 0 97.55 97.55"><circle cx="48.77272727272727" cy="48.77272727272727" r="34.31" fill="none" stroke="#979799" stroke-width="7.23"/><circle cx="48.77272727272727" cy="48.77272727272727" r="32.96" fill="none" stroke="#5e5f61" stroke-width="2.86"/><path d="M32.19,79.96 L29.43,85.15" stroke="#a6a6a8" stroke-width="2.19"/><path d="M65.35,79.96 L68.12,85.15" stroke="#a6a6a8" stroke-width="2.19"/><path d="M72.02,21.07 L75.26,17.21" stroke="#a8a8aa" stroke-width="1.68"/><circle cx="48.77272727272727" cy="48.77272727272727" r="30.27" fill="#dedee0"/><circle cx="48.77272727272727" cy="48.77272727272727" r="26.91" fill="#f59a84"/><circle cx="68.23" cy="37.08" r="3.03" fill="#111"/><text x="48.77272727272727" y="54.66" text-anchor="middle" font-family='"Liberation Sans", sans-serif' font-weight="bold" font-size="10.34" fill="#9a5646">4.95KHz</text></svg>
<div class="t" style="left:1459.5px;top:600.7px;width:100px;text-align:center;font-size:10.1px;color:#6c6c6e;font-weight:bold;line-height:14px">HIGH BAND</div>
<div class="t" style="left:1184px;top:649.3px;width:300px;text-align:left;font-size:17.9px;line-height:21.479999999999997px;color:#48484a;font-weight:normal;">Multiband Reverb Lofi</div>
<div style="position:absolute;left:1469px;top:640px;width:87px;height:42px;background:#c9c7c8;border-radius:5px;"></div>
<div class="t" style="left:1469px;top:654.8px;width:87px;text-align:center;font-size:10.3px;line-height:12.360000000000001px;color:#68686a;font-weight:bold;">SLOPE 12dB</div>
<div style="position:absolute;left:1184px;top:698px;width:379px;height:55px;background:#33363c;border-radius:8px 0 0 8px;"></div>
<div class="t" style="left:1184px;top:715.8px;width:379px;text-align:center;font-size:17px;line-height:20.4px;color:#a0a2a6;font-weight:normal;">Uplifting LOFI Rvb</div>
<svg style="position:absolute;left:1206px;top:718px" width="14" height="16"><path d="M12,2 L3,8 L12,14Z" fill="#d8d8da"/></svg>
<svg style="position:absolute;left:1526px;top:718px" width="14" height="16"><path d="M2,2 L11,8 L2,14Z" fill="#d8d8da"/></svg>
<svg style="position:absolute;left:1494.2px;top:795.3px" width="62.0" height="62.0" viewBox="-31.00 -31.00 62.00 62.00"><path d="M-18.94,13.26 A23.12,23.12 0 1 1 -2.42,23.00 L0.50,1.75 L-3.00,1.25" fill="none" stroke="#3b3b3d" stroke-width="3.75" stroke-linecap="round" stroke-linejoin="round"/><circle cx="0.50" cy="-10.75" r="2.50" fill="#3b3b3d"/></svg>
<svg style="position:absolute;left:0;top:0" width="1599" height="300"><text transform="translate(587.28,249.9) scale(0.8169,1)" font-family='"Liberation Sans", sans-serif' font-size="93.6" fill="#a2d2fc" stroke="#a2d2fc" stroke-width="2.0">R</text><text transform="translate(652.19,249.9) scale(0.7629,1)" font-family='"Liberation Sans", sans-serif' font-size="93.6" fill="#a2d2fc" stroke="#a2d2fc" stroke-width="2.0">E</text><text transform="translate(703.09,249.9) scale(0.8147,1)" font-family='"Liberation Sans", sans-serif' font-size="93.6" fill="#a2d2fc" stroke="#a2d2fc" stroke-width="2.0">S</text><text transform="translate(764.78,249.9) scale(0.8290,1)" font-family='"Liberation Sans", sans-serif' font-size="93.6" fill="#a2d2fc" stroke="#a2d2fc" stroke-width="2.0">P</text><text transform="translate(821.71,249.9) scale(0.7090,1)" font-family='"Liberation Sans", sans-serif' font-size="93.6" fill="#a2d2fc" stroke="#a2d2fc" stroke-width="2.0">O</text><text transform="translate(881.00,249.9) scale(0.9181,1)" font-family='"Liberation Sans", sans-serif' font-size="93.6" fill="#a2d2fc" stroke="#a2d2fc" stroke-width="2.0">N</text><text transform="translate(947.78,249.9) scale(0.8166,1)" font-family='"Liberation Sans", sans-serif' font-size="93.6" fill="#a2d2fc" stroke="#a2d2fc" stroke-width="2.0">S</text><text transform="translate(1003.74,249.9) scale(0.9394,1)" font-family='"Liberation Sans", sans-serif' font-size="93.6" fill="#a2d2fc" stroke="#a2d2fc" stroke-width="2.0">I</text><text transform="translate(1032.22,249.9) scale(0.8018,1)" font-family='"Liberation Sans", sans-serif' font-size="93.6" fill="#a2d2fc" stroke="#a2d2fc" stroke-width="2.0">V</text><text transform="translate(1091.33,249.9) scale(0.7707,1)" font-family='"Liberation Sans", sans-serif' font-size="93.6" fill="#a2d2fc" stroke="#a2d2fc" stroke-width="2.0">E</text><text transform="translate(1171.65,249.9) scale(0.8207,1)" font-family='"Liberation Sans", sans-serif' font-size="93.6" fill="#a2d2fc" stroke="#a2d2fc" stroke-width="2.0">D</text><text transform="translate(1236.62,249.9) scale(0.7727,1)" font-family='"Liberation Sans", sans-serif' font-size="93.6" fill="#a2d2fc" stroke="#a2d2fc" stroke-width="2.0">E</text><text transform="translate(1291.00,249.9) scale(0.7646,1)" font-family='"Liberation Sans", sans-serif' font-size="93.6" fill="#a2d2fc" stroke="#a2d2fc" stroke-width="2.0">S</text><text transform="translate(1347.43,249.9) scale(0.8248,1)" font-family='"Liberation Sans", sans-serif' font-size="93.6" fill="#a2d2fc" stroke="#a2d2fc" stroke-width="2.0">I</text><text transform="translate(1377.17,249.9) scale(0.7184,1)" font-family='"Liberation Sans", sans-serif' font-size="93.6" fill="#a2d2fc" stroke="#a2d2fc" stroke-width="2.0">G</text><text transform="translate(1436.13,249.9) scale(0.9276,1)" font-family='"Liberation Sans", sans-serif' font-size="93.6" fill="#a2d2fc" stroke="#a2d2fc" stroke-width="2.0">N</text></svg>
</div></body></html>
